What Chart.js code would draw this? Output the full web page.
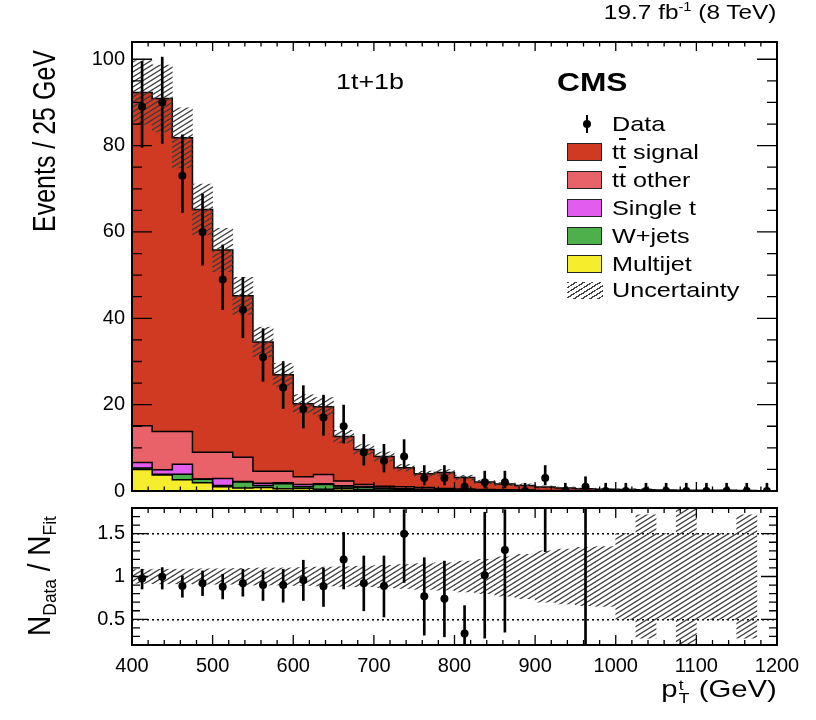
<!DOCTYPE html>
<html>
<head>
<meta charset="utf-8">
<script src="https://cdn.jsdelivr.net/npm/chart.js@4/dist/chart.umd.min.js"></script>
<style>
body{margin:0;width:816px;height:720px;position:relative;background:#fff;overflow:hidden;font-family:"Liberation Sans",Arial,sans-serif;color:#000}
canvas{position:absolute;left:0}
#top{top:0}
#ratio{top:489px}
.t{position:absolute;white-space:nowrap;transform-origin:left center}
sup{font-size:0.6em;vertical-align:0.7em;line-height:0}
sub{font-size:0.62em;vertical-align:-0.3em;line-height:0}
.sw{position:absolute;left:567px;width:33px;height:16px;border:1.5px solid #222}
.lt{position:absolute;left:612px;font-size:21px;line-height:22px;white-space:nowrap;transform:scaleX(1.2);transform-origin:left center}
.ob{text-decoration:overline}
.ss{display:inline-block;vertical-align:-0.45em;font-size:0.6em;line-height:0.95;margin:0 1px}
.ss span{display:block}
</style>
</head>
<body>
<canvas id="top" width="816" height="510"></canvas>
<canvas id="ratio" width="816" height="231"></canvas>

<div class="t" style="right:39px;top:1px;font-size:20px;line-height:22px;transform-origin:right center;transform:scaleX(1.22)">19.7 fb<sup>-1</sup> (8 TeV)</div>
<div class="t" style="left:336px;top:71px;font-size:22px;line-height:22px;transform:scaleX(1.22)">1t+1b</div>
<div class="t" style="left:557px;top:69px;font-size:26px;line-height:26px;font-weight:bold;transform:scaleX(1.22)">CMS</div>

<div style="position:absolute;left:583px;top:120px;width:8px;height:8px;border-radius:50%;background:#000"></div>
<div style="position:absolute;left:586px;top:115px;width:2px;height:18px;background:#000"></div>
<div class="lt" style="top:113px">Data</div>
<div class="sw" style="top:143px;background:#d03a22"></div>
<div class="lt" style="top:141px">t<span class="ob">t</span> signal</div>
<div class="sw" style="top:171px;background:#e9626a"></div>
<div class="lt" style="top:169px">t<span class="ob">t</span> other</div>
<div class="sw" style="top:199px;background:#e35cf0"></div>
<div class="lt" style="top:197px">Single t</div>
<div class="sw" style="top:227px;background:#4db04a"></div>
<div class="lt" style="top:225px">W+jets</div>
<div class="sw" style="top:255px;background:#f6ee2c"></div>
<div class="lt" style="top:253px">Multijet</div>
<div style="position:absolute;left:567px;top:282px;width:36px;height:17px;background:repeating-linear-gradient(148deg,#444 0 1.3px,transparent 1.3px 4.3px)"></div>
<div class="lt" style="top:279px">Uncertainty</div>

<div class="t" style="left:-106px;top:185px;width:300px;height:30px;line-height:30px;text-align:right;font-size:25px;transform-origin:center;transform:scaleX(1.22) rotate(-90deg)">Events / 25 GeV</div>
<div class="t" style="left:-60px;top:558px;width:200px;height:36px;line-height:36px;text-align:center;font-size:28px;transform-origin:center;transform:scaleX(1.1) rotate(-90deg)">N<sub>Data</sub> / N<sub>Fit</sub></div>
<div class="t" style="right:39px;top:675px;font-size:24px;line-height:28px;transform-origin:right center;transform:scaleX(1.22)">p<span class="ss"><span>t</span><span>T</span></span> (GeV)</div>

<script>
// bins of 25 GeV, low edges
const binLow = [400,425,450,475,500,525,550,575,600,625,650,675,700,725,750,775,800,825,850,875,900,925,950,975,1000,1025,1050,1075,1100,1125,1150,1175];
const binWidth = 25;

// stacked components (events per bin)
const ttSignal = [77.2,77.1,68.0,56.2,46.8,37.4,29.9,22.3,16.9,15.7,10.3,8.1,6.9,4.4,3.2,3.7,2.65,1.75,1.3,1.05,0.8,0.6,0.45,0.4,0.35,0.3,0.25,0.2,0.2,0.15,0.1,0];
const ttOther  = [8.5,8.9,7.6,6.2,6.1,5.6,2.8,2.7,1.8,2.1,1.1,0.5,0.4,0.5,0.4,0.3,0.3,0.2,0.2,0.15,0.1,0.1,0.05,0,0,0,0,0,0,0,0,0];
const singleT  = [1.3,1.0,2.3,0.1,1.6,0.1,0.5,0.2,0.5,0.2,0.3,0.2,0.2,0.1,0.1,0.1,0.05,0.05,0.05,0.05,0,0,0,0,0,0,0,0,0,0,0,0];
const wJets    = [0.3,0.2,1.3,0.8,0.3,1.4,0.5,1.2,0.4,1.1,0.4,0.5,0.3,0.2,0.2,0.1,0.1,0.1,0.05,0.05,0,0,0,0,0,0,0,0,0,0,0,0];
const multijet = [5.0,3.7,2.6,1.9,1.0,0.7,0.8,0.5,0.6,0.4,0.5,0.3,0.2,0.2,0.1,0.1,0,0,0,0,0,0,0,0,0,0,0,0,0,0,0,0];

// relative fit uncertainty per bin
const relUnc = [0.08,0.085,0.085,0.09,0.09,0.095,0.1,0.1,0.105,0.11,0.115,0.12,0.13,0.14,0.15,0.16,0.18,0.2,0.23,0.26,0.3,0.32,0.34,0.35,0.5,0.72,0.5,1.0,0.5,0.5,0.72,0];

// data
const dataVal   = [89,90,73,60,49,42,31,24,19,17,15,9,7,8,3,3,1,2,2,0,3,0,1,0,0,0,0,0,0,0,0,0];
const dataErrLo = [9.4,9.5,8.5,7.7,7,6.5,5.6,4.9,4.4,4.1,3.9,3,2.6,2.8,1.6,1.6,0.8,1.3,1.3,0,1.6,0,0.8,0,0,0,0,0,0,0,0,0];
const dataErrHi = [10.5,10.5,9.5,8.8,8,7.5,6.6,6,5.4,5.2,4.9,4.1,3.8,3.9,2.9,2.9,2.3,2.6,2.6,1.8,2.9,1.8,2.3,1.8,1.8,1.8,1.8,1.8,1.8,1.8,1.8,1.8];

// ratio panel
const ratioVal = [0.977,0.996,0.89,0.92,0.88,0.92,0.90,0.90,0.96,0.885,1.2,0.92,0.89,1.5,0.77,0.74,0.335,1.015,1.31,null,2.8,null,2.0,null,null,null,null,null,null,null,null,null];
const ratioLo  = [0.854,0.854,0.758,0.777,0.738,0.77,0.72,0.70,0.72,0.65,0.854,0.60,0.527,0.93,0.315,0.296,0.2,0.28,0.35,null,1.29,null,0.1,null,null,null,null,null,null,null,null,null];
const ratioHi  = [1.085,1.104,1.008,1.065,1.027,1.085,1.065,1.085,1.19,1.10,1.515,1.24,1.24,1.78,1.22,1.18,0.66,1.75,1.78,null,5,null,6,null,null,null,null,null,null,null,null,null];

const colors = ['#f6ee2c', '#4db04a', '#e35cf0', '#e9626a', '#d03a22'];

Chart.defaults.font.family = '"Liberation Sans", Arial, sans-serif';
Chart.defaults.font.size = 20;
Chart.defaults.color = '#000';

const centers = binLow.map(v => v + binWidth / 2);
const edges = binLow.concat([binLow[binLow.length - 1] + binWidth]);

// cumulative stack, bottom to top
const layers = [multijet, wJets, singleT, ttOther, ttSignal];
const cum = [];
let run = binLow.map(() => 0);
layers.forEach(l => { run = run.map((v, i) => v + l[i]); cum.push(run); });
const total = cum[cum.length - 1];

function hatch() {
    const c = document.createElement('canvas');
    c.width = 8; c.height = 5;
    const g = c.getContext('2d');
    g.strokeStyle = '#3a3a3a';
    g.lineWidth = 1.2;
    for (const dx of [-8, 0, 8]) {
        g.beginPath();
        g.moveTo(dx - 1, 5 + 5 / 8);
        g.lineTo(dx + 9, -5 / 8);
        g.stroke();
    }
    return g.createPattern(c, 'repeat');
}

// frame + inward ticks, ROOT style
const frame = {
    id: 'frame',
    afterDatasetsDraw(chart, args, o) {
        const {ctx, chartArea: a, scales: {x, y}} = chart;
        ctx.save();
        ctx.strokeStyle = '#000';
        ctx.lineWidth = 1.3;
        ctx.beginPath();
        for (let i = Math.ceil(x.min / o.xStep - 1e-9); i <= Math.floor(x.max / o.xStep + 1e-9); i++) {
            const px = x.getPixelForValue(i * o.xStep);
            const len = (i * o.xStep - x.min) % (o.xStep * o.xEvery) === 0 ? o.xMaj : o.xMin;
            ctx.moveTo(px, a.bottom); ctx.lineTo(px, a.bottom - len);
            ctx.moveTo(px, a.top); ctx.lineTo(px, a.top + len);
        }
        for (let i = Math.ceil(y.min / o.yStep - 1e-9); i <= Math.floor(y.max / o.yStep + 1e-9); i++) {
            const py = y.getPixelForValue(i * o.yStep);
            const len = i % o.yEvery === 0 ? o.yMaj : o.yMin;
            ctx.moveTo(a.left, py); ctx.lineTo(a.left + len, py);
            ctx.moveTo(a.right, py); ctx.lineTo(a.right - len, py);
        }
        ctx.stroke();
        ctx.lineWidth = 2;
        ctx.strokeRect(a.left, a.top, a.right - a.left, a.bottom - a.top);
        ctx.restore();
    }
};

const pattern = hatch();

const stackSets = cum.map((c, k) => ({
    type: 'line',
    data: edges.map((x, i) => ({x, y: i < c.length ? c[i] : 0})),
    stepped: 'before',
    fill: 'origin',
    backgroundColor: colors[k],
    borderColor: '#000',
    borderWidth: 1.5,
    pointRadius: 0
}));

new Chart(document.getElementById('top'), {
    type: 'line',
    data: {
        datasets: [
            {
                type: 'line',
                data: centers.map((x, i) => ({x, y: dataVal[i]})),
                showLine: false,
                pointRadius: 4,
                pointBackgroundColor: '#000',
                pointBorderWidth: 0
            },
            {
                type: 'bar',
                data: centers.map((x, i) => ({x, y: [dataVal[i] - dataErrLo[i], dataVal[i] + dataErrHi[i]]})),
                backgroundColor: '#000',
                barThickness: 2,
                grouped: false,
                clip: 0
            },
            {
                type: 'bar',
                data: centers.map((x, i) => ({x, y: [total[i] * (1 - relUnc[i]), total[i] * (1 + relUnc[i])]})),
                backgroundColor: pattern,
                barPercentage: 1,
                categoryPercentage: 1,
                grouped: false,
                clip: 0
            },
            ...stackSets
        ]
    },
    options: {
        responsive: false,
        animation: false,
        devicePixelRatio: 1,
        layout: {autoPadding: false, padding: {top: 42, right: 39, bottom: 18.5, left: 0}},
        plugins: {
            legend: {display: false},
            tooltip: {enabled: false},
            frame: {xStep: 20, xEvery: 5, xMaj: 9, xMin: 4.5, yStep: 5, yEvery: 4, yMaj: 20, yMin: 10}
        },
        scales: {
            x: {type: 'linear', min: 400, max: 1200, offset: false, display: false},
            y: {
                min: 0, max: 104,
                afterFit: s => { s.width = 132; },
                grid: {display: false, drawTicks: false},
                border: {display: false},
                ticks: {stepSize: 20, includeBounds: false, padding: 7}
            }
        }
    },
    plugins: [frame]
});

new Chart(document.getElementById('ratio'), {
    type: 'line',
    data: {
        datasets: [
            {
                type: 'line',
                data: centers.map((x, i) => ({x, y: ratioVal[i]})),
                showLine: false,
                pointRadius: 4,
                pointBackgroundColor: '#000',
                pointBorderWidth: 0,
                clip: 0
            },
            {
                type: 'bar',
                data: centers.map((x, i) => ({x, y: ratioLo[i] === null ? null : [ratioLo[i], ratioHi[i]]})),
                backgroundColor: '#000',
                barThickness: 2,
                grouped: false,
                clip: 0
            },
            {
                type: 'bar',
                data: centers.map((x, i) => ({x, y: [1 - relUnc[i], 1 + relUnc[i]]})),
                backgroundColor: pattern,
                barPercentage: 1,
                categoryPercentage: 1,
                grouped: false,
                clip: 0
            }
        ]
    },
    options: {
        responsive: false,
        animation: false,
        devicePixelRatio: 1,
        layout: {autoPadding: false, padding: {top: 18, right: 39, bottom: 0, left: 0}},
        plugins: {
            legend: {display: false},
            tooltip: {enabled: false},
            frame: {xStep: 20, xEvery: 5, xMaj: 10, xMin: 5, yStep: 0.1, yEvery: 5, yMaj: 16, yMin: 8}
        },
        scales: {
            x: {
                type: 'linear', min: 400, max: 1200, offset: false,
                afterFit: s => { s.height = 75; },
                grid: {display: false, drawTicks: false},
                border: {display: false},
                ticks: {stepSize: 100, autoSkip: false, maxRotation: 0, padding: 9, callback: v => String(v)}
            },
            y: {
                min: 0.2, max: 1.8,
                afterFit: s => { s.width = 132; },
                grid: {
                    drawTicks: false,
                    lineWidth: 1.5,
                    color: c => (c.tick && Math.abs(c.tick.value - 1) < 1e-6) ? 'rgba(0,0,0,0)' : '#000'
                },
                border: {display: false, dash: [2, 3]},
                ticks: {stepSize: 0.5, includeBounds: false, padding: 7, callback: v => String(v)}
            }
        }
    },
    plugins: [frame]
});
</script>
</body>
</html>
